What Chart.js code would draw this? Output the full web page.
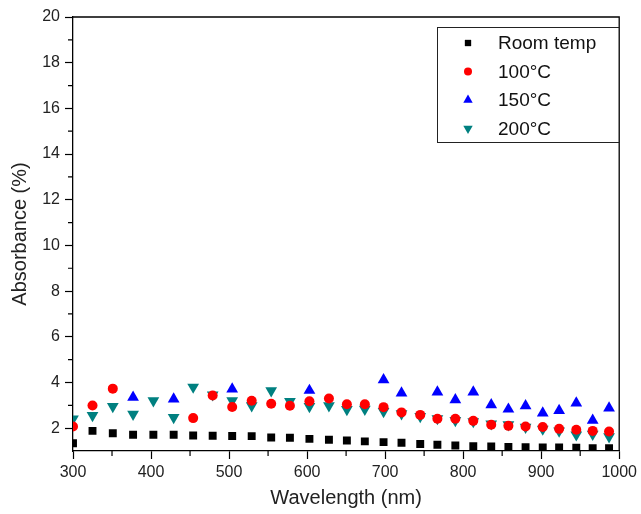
<!DOCTYPE html>
<html>
<head>
<meta charset="utf-8">
<script src="https://cdn.jsdelivr.net/npm/chart.js"></script>
<style>
  body { margin: 0; background: #fff; }
  #wrap { width: 641px; height: 514px; }
</style>
</head>
<body>
<div id="wrap"><canvas id="chart"></canvas></div>
<script>
// wavelength (nm) shared by every series
let wavelength = [300, 325, 351, 377, 403, 429, 454, 479, 504, 529, 554, 578, 603, 628, 651,
                  674, 698, 721, 745, 767, 790, 813, 836, 858, 880, 902, 923, 945, 966, 987];

let roomTemp = [1.34, 1.88, 1.78, 1.71, 1.71, 1.71, 1.68, 1.67, 1.66, 1.65, 1.59, 1.58, 1.53, 1.49, 1.46,
                1.42, 1.39, 1.36, 1.31, 1.27, 1.24, 1.21, 1.20, 1.18, 1.17, 1.15, 1.15, 1.14, 1.12, 1.12];

let temp100 = [2.07, 2.99, 3.73, null, null, null, 2.44, 3.43, 2.93, 3.20, 3.07, 2.98, 3.18, 3.30, 3.05,
               3.05, 2.92, 2.69, 2.58, 2.41, 2.41, 2.32, 2.15, 2.10, 2.07, 2.05, 1.97, 1.93, 1.88, 1.85];

let temp150 = [null, null, null, 3.35, null, 3.27, null, null, 3.71, null, null, null, 3.65, null, null,
               null, 4.12, 3.54, null, 3.58, 3.24, 3.58, 3.02, 2.83, 2.98, 2.66, 2.77, 3.10, 2.34, 2.88];

let temp200 = [2.41, 2.56, 2.95, 2.61, 3.20, 2.47, 3.80, 3.46, 3.20, 2.98, 3.64, 3.17, 2.95, 2.98, 2.82,
               2.83, 2.73, 2.63, 2.51, 2.42, 2.34, 2.29, 2.19, 2.15, 2.04, 1.96, 1.88, 1.71, 1.74, 1.63];

let seriesNames = ['Room temp', '100°C', '150°C', '200°C'];

let xTicks = [300, 400, 500, 600, 700, 800, 900, 1000];
let xMinor = [350, 450, 550, 650, 750, 850, 950];
let yTicks = [2, 4, 6, 8, 10, 12, 14, 16, 18, 20];
let yMinor = [3, 5, 7, 9, 11, 13, 15, 17, 19];

function pts(values) {
  let out = [];
  values.forEach((v, i) => {
    if (v !== null) out.push({x: wavelength[i], y: v});
  });
  return out;
}

const font = 'Liberation Sans, Arial, sans-serif';

// box round the plot, minor ticks and the legend inside the plot
const framePlugin = {
  id: 'frame',
  afterDraw(chart) {
    const ctx = chart.ctx;
    const a = chart.chartArea;
    const xs = chart.scales.x, ys = chart.scales.y;
    ctx.save();
    ctx.strokeStyle = '#000';
    ctx.lineWidth = 1.3;
    ctx.beginPath();
    ctx.moveTo(a.left, a.top);
    ctx.lineTo(a.right, a.top);
    ctx.lineTo(a.right, a.bottom);
    ctx.stroke();

    ctx.lineWidth = 1.2;
    ctx.beginPath();
    yMinor.forEach(v => {
      let p = ys.getPixelForValue(v);
      ctx.moveTo(a.left - 5, p);
      ctx.lineTo(a.left, p);
    });
    xMinor.forEach(v => {
      let p = xs.getPixelForValue(v);
      ctx.moveTo(p, a.bottom);
      ctx.lineTo(p, a.bottom + 5);
    });
    ctx.stroke();

    // legend
    ctx.lineWidth = 1;
    ctx.strokeStyle = '#222';
    ctx.strokeRect(437.5, 27.5, 182, 115);
    ctx.font = '19px ' + font;
    ctx.textBaseline = 'middle';
    chart.data.datasets.forEach((ds, i) => {
      let y = 43 + i * 28.5;
      ctx.fillStyle = ds.pointBackgroundColor;
      Chart.helpers.drawPoint(ctx, {
        pointStyle: ds.pointStyle,
        rotation: ds.pointRotation || 0,
        radius: ds.pointRadius * 0.8,
        borderWidth: 0
      }, 468, y);
      ctx.fillStyle = '#111';
      ctx.fillText(ds.label, 498, y + 1);
    });
    ctx.restore();
  }
};

let ctx = document.getElementById('chart').getContext('2d');

var myChart = new Chart(ctx, {
  type: 'scatter',
  data: {
    datasets: [{
      label: seriesNames[0],
      data: pts(roomTemp),
      pointStyle: 'rect',
      pointRadius: 5.6,
      pointBackgroundColor: '#000000',
      pointBorderWidth: 0,
      clip: 0
    }, {
      label: seriesNames[1],
      data: pts(temp100),
      pointStyle: 'circle',
      pointRadius: 5,
      pointBackgroundColor: '#ff0000',
      pointBorderWidth: 0,
      clip: 0
    }, {
      label: seriesNames[2],
      data: pts(temp150),
      pointStyle: 'triangle',
      pointRadius: 6.8,
      pointBackgroundColor: '#0000ff',
      pointBorderWidth: 0,
      clip: 0
    }, {
      label: seriesNames[3],
      data: pts(temp200),
      pointStyle: 'triangle',
      pointRotation: 180,
      pointRadius: 6.8,
      pointBackgroundColor: '#008080',
      pointBorderWidth: 0,
      clip: 0
    }]
  },
  options: {
    responsive: true,
    maintainAspectRatio: false,
    animation: false,
    events: [],
    layout: { padding: { top: 17, right: 19, bottom: 0, left: 0 } },
    plugins: {
      legend: { display: false },
      tooltip: { enabled: false }
    },
    scales: {
      x: {
        type: 'linear',
        min: 300,
        max: 1000,
        afterBuildTicks: s => { s.ticks = xTicks.map(v => ({value: v})); },
        afterFit: s => { s.height = 63; },
        grid: { drawOnChartArea: false, tickLength: 8, color: '#000', tickWidth: 1.2 },
        border: { color: '#000', width: 1.3 },
        ticks: {
          font: { family: font, size: 16 },
          color: '#222',
          padding: 4,
          maxRotation: 0,
          callback: v => String(v)
        },
        title: {
          display: true,
          text: 'Wavelength (nm)',
          font: { family: font, size: 20 },
          color: '#222',
          padding: { top: 0, bottom: 4 }
        }
      },
      y: {
        type: 'linear',
        min: 1,
        max: 20,
        afterBuildTicks: s => { s.ticks = yTicks.map(v => ({value: v})); },
        afterFit: s => { s.width = 73; },
        grid: { drawOnChartArea: false, tickLength: 8, color: '#000', tickWidth: 1.2 },
        border: { color: '#000', width: 1.3 },
        ticks: { font: { family: font, size: 16 }, color: '#222', padding: 5, callback: v => String(v) },
        title: {
          display: true,
          text: 'Absorbance (%)',
          font: { family: font, size: 20 },
          color: '#222',
          padding: { top: 8, bottom: 0 }
        }
      }
    }
  },
  plugins: [framePlugin]
});
</script>
</body>
</html>
